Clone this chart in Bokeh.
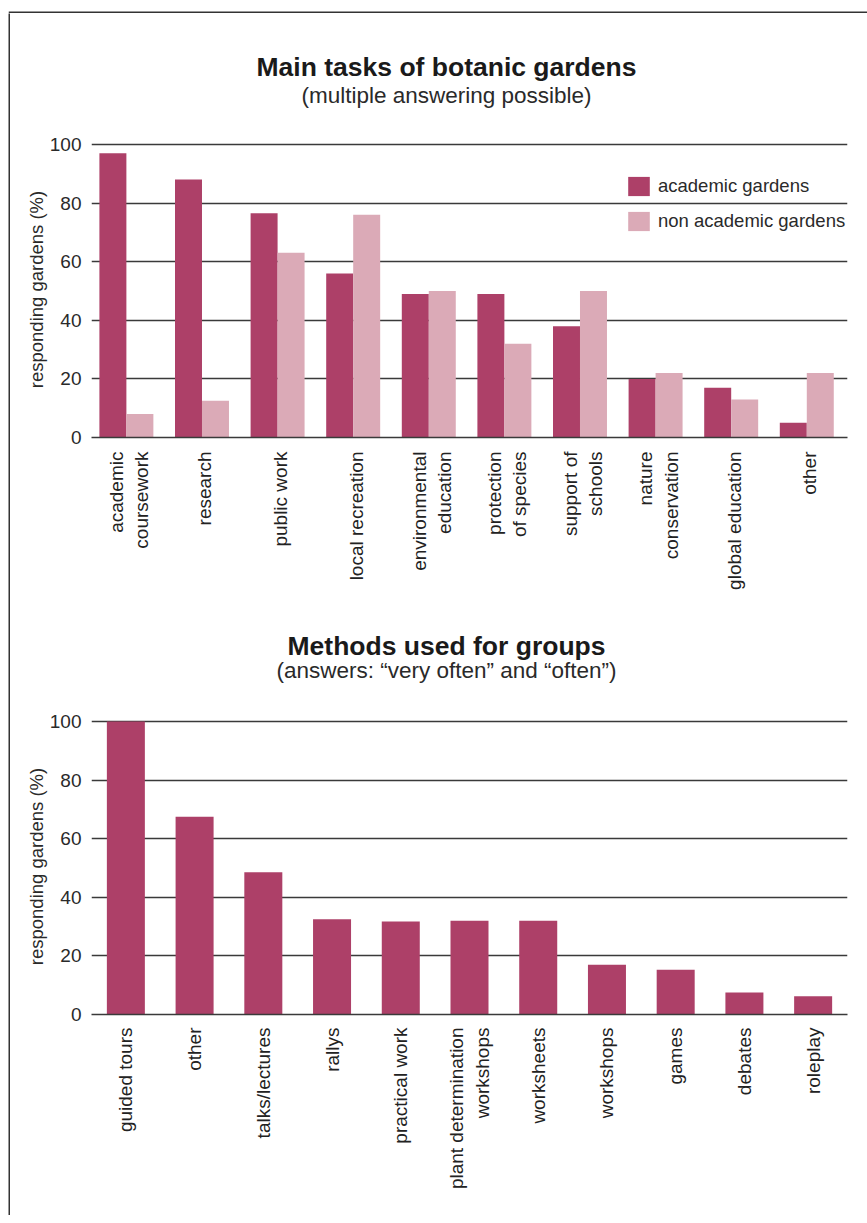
import math
from bokeh.plotting import figure
from bokeh.models import Range1d, FactorRange, FixedTicker, Legend, LegendItem, ColumnDataSource, Spacer
from bokeh.transform import dodge
from bokeh.layouts import column, row
from bokeh.core.properties import value
from bokeh.embed import file_html
from bokeh.resources import INLINE

# ---------------- data ----------------
tasks = ["academic\ncoursework", "research", "public work", "local recreation",
         "environmental\neducation", "protection\nof species", "support of\nschools",
         "nature\nconservation", "global education", "other"]
academic = [97, 88, 76.5, 56, 49, 49, 38, 20, 17, 5]
non_academic = [8, 12.5, 63, 76, 50, 32, 50, 22, 13, 22]

methods = ["guided tours", "other", "talks/lectures", "rallys", "practical work",
           "plant determination\nworkshops", "worksheets", "workshops", "games",
           "debates", "roleplay"]
methods_share = [100, 67.5, 48.5, 32.5, 31.7, 32, 32, 17, 15.3, 7.5, 6.2]

y_ticks = [0, 20, 40, 60, 80, 100]

title1 = "Main tasks of botanic gardens"
subtitle1 = "(multiple answering possible)"
title2 = "Methods used for groups"
subtitle2 = "(answers: \u201cvery often\u201d and \u201coften\u201d)"
y_label = "responding gardens (%)"

# ---------------- style ----------------
DARK = "#ad4068"
LIGHT = "#dbaab7"
GRID = "#3a3a3a"
BORDER = "#333333"
SANS = "Liberation Sans"
W = 849          # width of the chart column
BL, BR = 81, 12  # plot borders (left / right)


def style(p, label_standoff):
    p.y_range = Range1d(0, 101)
    p.yaxis.ticker = FixedTicker(ticks=y_ticks)
    p.yaxis.axis_line_color = None
    p.yaxis.major_tick_line_color = None
    p.yaxis.minor_tick_line_color = None
    p.yaxis.major_label_standoff = 4
    p.yaxis.major_label_text_font = SANS
    p.yaxis.major_label_text_font_size = "19px"
    p.yaxis.major_label_text_color = "#2a2a2a"
    p.yaxis.axis_label = y_label
    p.yaxis.axis_label_text_font = SANS
    p.yaxis.axis_label_text_font_size = "18.5px"
    p.yaxis.axis_label_text_font_style = "normal"
    p.yaxis.axis_label_text_color = "#2a2a2a"
    p.yaxis.axis_label_standoff = 0
    p.xaxis.axis_line_color = GRID
    p.xaxis.axis_line_width = 1.6
    p.xaxis.major_tick_line_color = None
    p.xaxis.minor_tick_line_color = None
    p.xaxis.major_label_orientation = math.pi / 2
    p.xaxis.major_label_standoff = label_standoff
    p.xaxis.major_label_text_font = SANS
    p.xaxis.major_label_text_font_size = "19px"
    p.xaxis.major_label_text_color = "#222222"
    p.xgrid.grid_line_color = None
    p.ygrid.grid_line_color = GRID
    p.ygrid.grid_line_width = 1.6
    p.ygrid.ticker = FixedTicker(ticks=y_ticks)
    p.outline_line_color = None
    p.x_range.range_padding = 0


def header(h, title, sub, title_y, sub_y):
    # frame aligned with the chart frames; x in page pixels (91 .. 847)
    hp = figure(width=W, height=h, x_range=Range1d(91, 847), y_range=Range1d(0, h),
                min_border=0, min_border_left=BL, min_border_right=BR,
                x_axis_type=None, y_axis_type=None,
                output_backend="svg", toolbar_location=None)
    hp.outline_line_color = None
    hp.grid.grid_line_color = None
    hp.text(x=[446], y=[title_y], text=[title], text_align="center", text_baseline="alphabetic",
            text_font=value(SANS), text_font_style="bold", text_font_size="26.5px", text_color="#1a1a1a")
    hp.text(x=[446], y=[sub_y], text=[sub], text_align="center", text_baseline="alphabetic",
            text_font=value(SANS), text_font_size="22.5px", text_color="#2a2a2a")
    return hp


def vstrip(width, height):
    b = figure(width=width, height=height, min_border=0, x_axis_type=None, y_axis_type=None,
               output_backend="svg", toolbar_location=None)
    b.outline_line_color = None
    b.grid.grid_line_color = None
    b.background_fill_color = BORDER
    b.border_fill_color = BORDER
    return b


def topline(width, height):
    t = figure(width=width, height=height, x_range=Range1d(0, width), y_range=Range1d(0, height),
               min_border=0, x_axis_type=None, y_axis_type=None,
               output_backend="svg", toolbar_location=None)
    t.outline_line_color = None
    t.grid.grid_line_color = None
    t.quad(left=[0], right=[width], bottom=[0], top=[2], fill_color=BORDER, line_color=None)
    return t


# ---------------- chart 1 ----------------
src1 = ColumnDataSource(dict(task=tasks, academic=academic, non_academic=non_academic))
p1 = figure(x_range=FactorRange(*tasks), width=W, height=484,
            output_backend="svg", toolbar_location=None,
            min_border_left=BL, min_border_right=BR, min_border_top=10, min_border_bottom=178)
r_a = p1.vbar(x=dodge("task", -0.217, range=p1.x_range), top="academic", width=0.357,
              source=src1, fill_color=DARK, line_color=None)
r_n = p1.vbar(x=dodge("task", 0.14, range=p1.x_range), top="non_academic", width=0.357,
              source=src1, fill_color=LIGHT, line_color=None)
style(p1, 8)

legend = Legend(items=[LegendItem(label="academic gardens", renderers=[r_a]),
                       LegendItem(label="non academic gardens", renderers=[r_n])],
                location=(534, 204), glyph_width=27, glyph_height=24, label_height=24,
                spacing=11, padding=0, margin=0, label_standoff=6,
                border_line_color=None, background_fill_alpha=0,
                label_text_font=SANS, label_text_font_size="18.5px", label_text_color="#2a2a2a")
p1.add_layout(legend)

# ---------------- chart 2 ----------------
src2 = ColumnDataSource(dict(method=methods, share=methods_share))
p2 = figure(x_range=FactorRange(*methods), width=W, height=507,
            output_backend="svg", toolbar_location=None,
            min_border_left=BL, min_border_right=BR, min_border_top=10, min_border_bottom=201)
p2.vbar(x="method", top="share", width=0.553, source=src2, fill_color=DARK, line_color=None)
style(p2, 7)

h1 = header(118, title1, subtitle1, 65, 36)
h2 = header(93, title2, subtitle2, 63, 38)

charts = column(h1, p1, h2, p2)
body = row(vstrip(2, 1202), charts)
layout = row(Spacer(width=8, height=10), column(topline(859, 13), body))

open("out.html", "w").write(file_html(layout, INLINE))
